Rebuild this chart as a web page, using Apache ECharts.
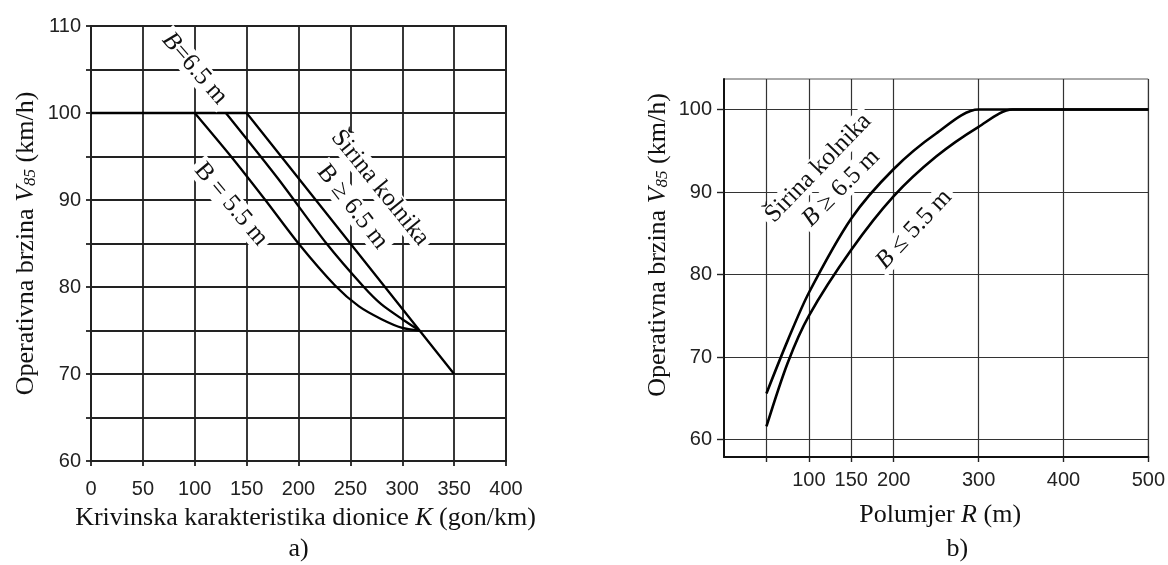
<!DOCTYPE html>
<html>
<head>
<meta charset="utf-8">
<script src="https://cdn.jsdelivr.net/npm/echarts@6/dist/echarts.min.js"></script>
<style>
html,body{margin:0;padding:0;background:#fff;}
#c{width:1168px;height:565px;}
</style>
</head>
<body>
<div id="c"></div>
<script>
// ---- Data: chart a) (K in gon/km, V85 in km/h)
const leftXTicksMin = 0, leftXTicksMax = 400, leftXStep = 50;
const leftYMin = 60, leftYMax = 110, leftYStep = 5;
const leftWide = [[0,100],[150,100],[350,70]];                 // Širina kolnika B ≥ 6.5 m
const left65 = [[130,100],[180,92.5],[227,85],[263,80],[280,78],[300,76.3],[316.7,75]]; // B = 6.5 m
const left55 = [[100,100],[135,95],[168,90],[200,85],[235,80.2],[258,77.8],[280,76.3],[300,75.3],[316.7,75]]; // B = 5.5 m

// ---- Data: chart b) (R in m, V85 in km/h)
const rightXTicks = [50,100,150,200,300,400,500];
const rightXLabels = [100,150,200,300,400,500];
const rightYTicks = [60,70,80,90,100];
const right65 = [[50,65.6],[75,72],[100,77.8],[150,86.8],[200,92.8],[250,97.1],[300,100],[500,100]]; // B ≥ 6.5 m
const right55 = [[50,61.6],[75,69.3],[100,75],[150,83],[200,89.5],[250,94.3],[300,97.9],[340,100],[500,100]]; // B ≤ 5.5 m

// ---- Annotations (data coordinates of text centres)
const annotations = [
  {grid:0, at:[100,105.1], angle:-49, parts:[['i','B'],['n','=6.5 m']]},
  {grid:0, at:[135,89.5], angle:-50, parts:[['n','B = 5.5 m']]},
  {grid:0, at:[278.6,91.4], angle:-51, parts:[['n','Širina kolnika']]},
  {grid:0, at:[252,89.2], angle:-52, parts:[['n','B ≥ 6.5 m']]},
  {grid:1, at:[111,92.9], angle:46, parts:[['n','Širina kolnika']]},
  {grid:1, at:[138,90.5], angle:45, parts:[['i','B'],['n',' ≥ 6.5 m']]},
  {grid:1, at:[224,85.5], angle:47, parts:[['i','B'],['n',' ≤ 5.5 m']]}
];

const SERIF = '"Liberation Serif","DejaVu Serif",serif';
const SANS = '"Liberation Sans",Arial,sans-serif';
const NF = 26;
const nameRich = {
  i:{fontFamily:SERIF,fontSize:NF,fontStyle:'italic',color:'#111'},
  s:{fontFamily:SERIF,fontSize:17,fontStyle:'italic',color:'#111',verticalAlign:'bottom',lineHeight:22},
  n:{fontFamily:SERIF,fontSize:NF,color:'#111'}
};
function nameStyle(pad){ return {fontFamily:SERIF,fontSize:NF,color:'#111',rich:nameRich,padding:pad}; }
const tickFont = {fontFamily:SANS,fontSize:20,color:'#222'};

const chart = echarts.init(document.getElementById('c'), null, {renderer:'canvas'});
chart.setOption({
  backgroundColor:'#fff',
  animation:false,
  grid:[
    {left:91, top:26, width:415, height:435, show:true, borderColor:'#222', borderWidth:1.8, backgroundColor:'transparent'},
    {left:724, top:79, width:425, height:378, show:true, borderColor:'#555', borderWidth:1, backgroundColor:'transparent'}
  ],
  xAxis:[
    {gridIndex:0, type:'value', min:leftXTicksMin, max:leftXTicksMax, interval:leftXStep,
     name:'Krivinska karakteristika dionice {i|K} (gon/km)', nameLocation:'middle', nameGap:44, nameTextStyle:nameStyle([0,0,0,14]),
     axisLine:{show:true,lineStyle:{color:'#222',width:1.8}},
     axisTick:{show:true,length:5,lineStyle:{color:'#222',width:1.8}},
     axisLabel:Object.assign({margin:18},tickFont),
     splitLine:{show:true,lineStyle:{color:'#222',width:1.8}}},
    {gridIndex:1, type:'value', min:0, max:500,
     name:'Polumjer {i|R} (m)', nameLocation:'middle', nameGap:45, nameTextStyle:nameStyle([0,0,0,8]),
     axisLine:{show:true,lineStyle:{color:'#111',width:2}},
     axisTick:{show:true,length:5,customValues:rightXTicks,lineStyle:{color:'#222',width:1.4}},
     axisLabel:Object.assign({margin:13,customValues:rightXLabels},tickFont),
     splitLine:{show:true,lineStyle:{color:'#333',width:1.2}}}
  ],
  yAxis:[
    {gridIndex:0, type:'value', min:leftYMin, max:leftYMax, interval:leftYStep,
     name:'Operativna brzina {i|V}{s|85} (km/h)', nameLocation:'middle', nameGap:52, nameRotate:90, nameTextStyle:nameStyle([0,0,0,0]),
     axisLine:{show:true,lineStyle:{color:'#222',width:1.8}},
     axisTick:{show:true,length:5,lineStyle:{color:'#222',width:1.8}},
     axisLabel:Object.assign({margin:10,formatter:function(v){return v%10===0?String(v):'';}},tickFont),
     splitLine:{show:true,lineStyle:{color:'#222',width:1.8}}},
    {gridIndex:1, type:'value', min:57.9, max:103.7,
     name:'Operativna brzina {i|V}{s|85} (km/h)', nameLocation:'middle', nameGap:53, nameRotate:90, nameTextStyle:nameStyle([0,0,0,46]),
     axisLine:{show:true,lineStyle:{color:'#111',width:2}},
     axisTick:{show:true,length:7,customValues:rightYTicks,lineStyle:{color:'#222',width:1.4}},
     axisLabel:Object.assign({margin:12,customValues:rightYTicks},tickFont),
     splitLine:{show:true,lineStyle:{color:'#333',width:1.2}}}
  ],
  series:[
    {type:'line',xAxisIndex:0,yAxisIndex:0,data:leftWide,showSymbol:false,lineStyle:{color:'#000',width:2.3},z:5},
    {type:'line',xAxisIndex:0,yAxisIndex:0,data:left65,showSymbol:false,smooth:0.25,lineStyle:{color:'#000',width:2.3},z:5},
    {type:'line',xAxisIndex:0,yAxisIndex:0,data:left55,showSymbol:false,smooth:0.25,lineStyle:{color:'#000',width:2.3},z:5},
    {type:'line',xAxisIndex:1,yAxisIndex:1,data:right65,showSymbol:false,smooth:0.3,lineStyle:{color:'#000',width:2.6},z:5},
    {type:'line',xAxisIndex:1,yAxisIndex:1,data:right55,showSymbol:false,smooth:0.3,lineStyle:{color:'#000',width:2.6},z:5}
  ]
});

const graphics = [];
annotations.forEach(function(a){
  const p = chart.convertToPixel({gridIndex:a.grid}, a.at);
  const txt = a.parts.map(function(t){return '{'+t[0]+'|'+t[1]+'}';}).join('');
  graphics.push({type:'text', x:p[0], y:p[1], rotation:a.angle*Math.PI/180, z:10,
    style:{text:txt, align:'center', verticalAlign:'middle', fill:'#111',
      font:'25px '+SERIF, backgroundColor:'#fff', padding:[0,4],
      rich:{i:{fontFamily:SERIF,fontSize:25,fontStyle:'italic',fill:'#111',color:'#111'},
            n:{fontFamily:SERIF,fontSize:25,fill:'#111',color:'#111'}}}});
});
const subLabels = [{grid:0, x:200, text:'a)'},{grid:1, x:275, text:'b)'}];
subLabels.forEach(function(s){
  const p = chart.convertToPixel({gridIndex:s.grid}, [s.x, s.grid===0?leftYMin:60]);
  graphics.push({type:'text', x:p[0], y:549, z:10,
    style:{text:s.text, align:'center', verticalAlign:'middle', fill:'#111', font:NF+'px '+SERIF}});
});
chart.setOption({graphic:graphics});
</script>
</body>
</html>
